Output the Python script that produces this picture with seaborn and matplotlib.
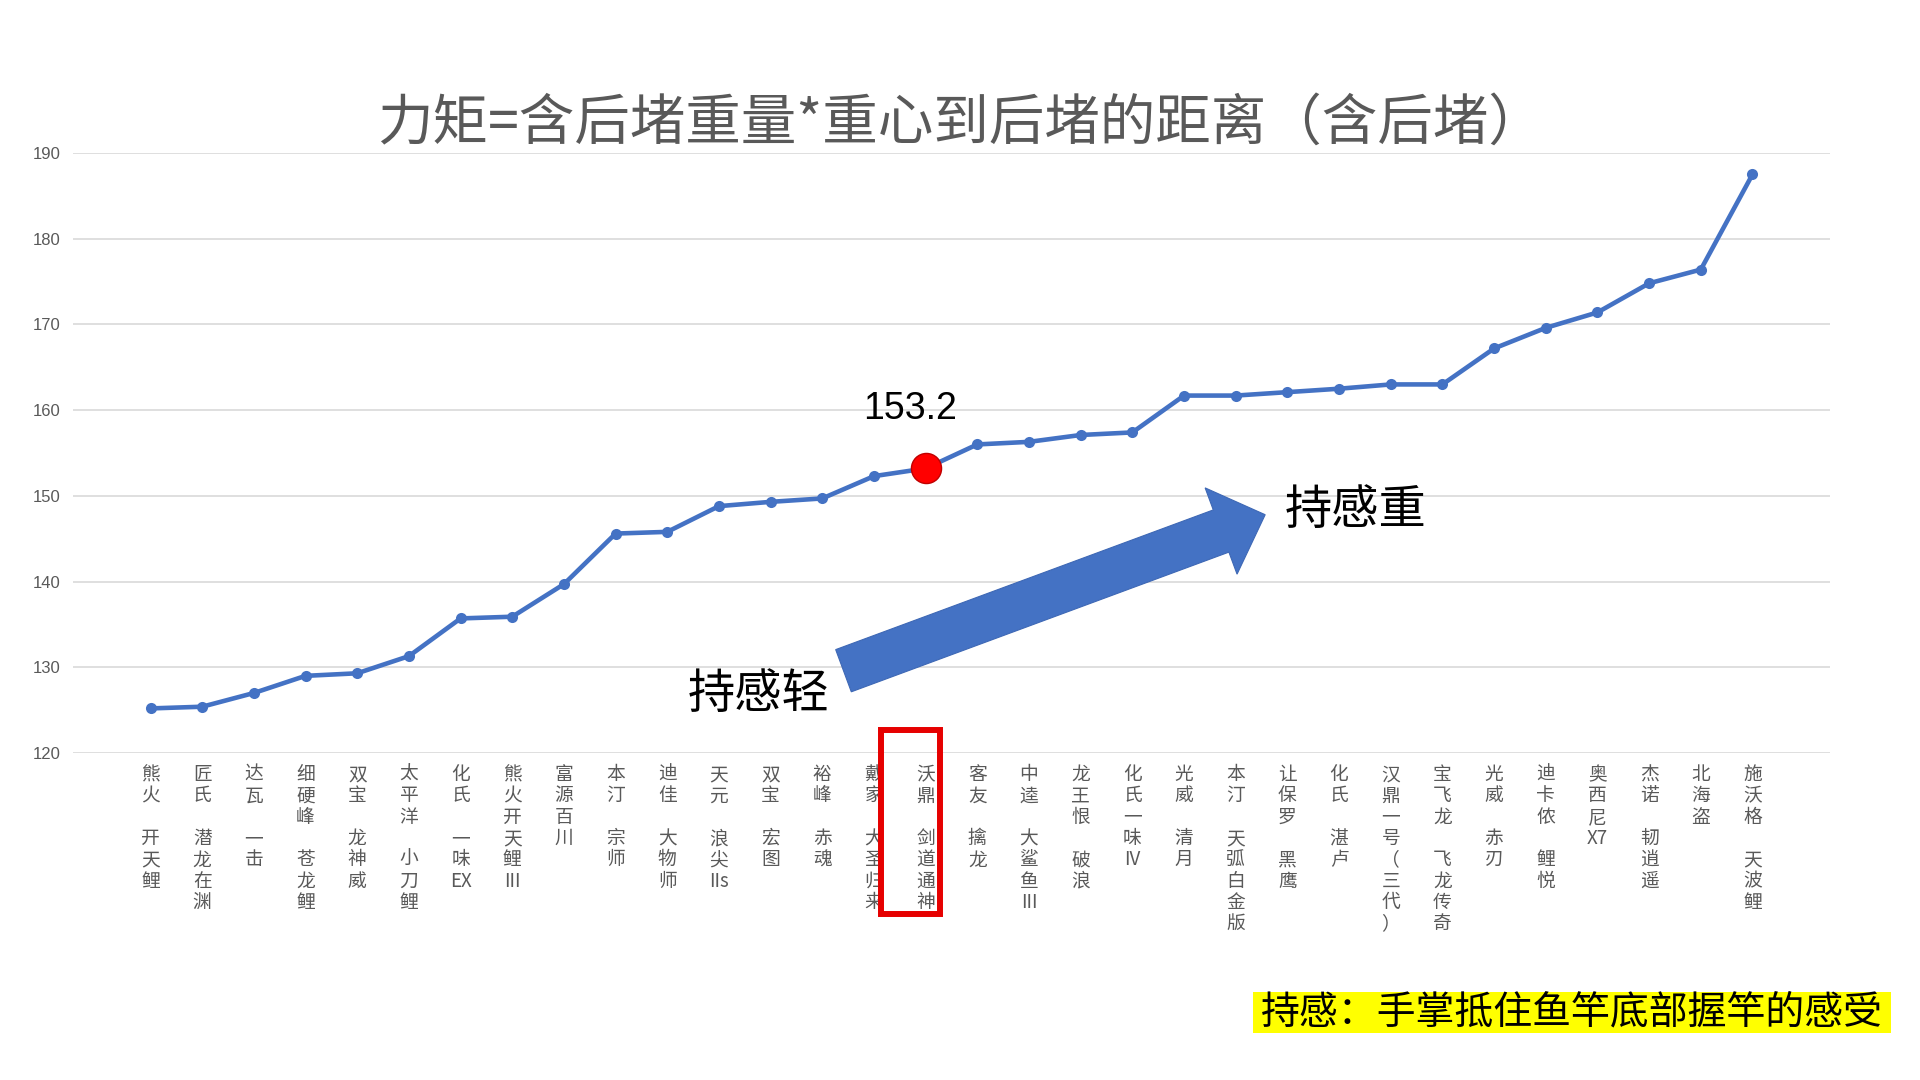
import numpy as np
import pandas as pd
import matplotlib
matplotlib.use("Agg")
import matplotlib.pyplot as plt
import seaborn as sns
from matplotlib.patches import FancyArrow, Rectangle
from matplotlib.transforms import IdentityTransform

# ---------------- data ----------------
rods = ["熊火 开天鲤", "匠氏 潜龙在渊", "达瓦 一击", "细硬峰 苍龙鲤", "双宝 龙神威",
        "太平洋 小刀鲤", "化氏 一味EX", "熊火开天鲤III", "富源百川", "本汀 宗师",
        "迪佳 大物师", "天元 浪尖IIs", "双宝 宏图", "裕峰 赤魂", "戴家 大圣归来",
        "沃鼎 剑道通神", "客友 擒龙", "中逵 大鲨鱼III", "龙王恨 破浪", "化氏一味IV",
        "光威 清月", "本汀 天弧白金版", "让保罗 黑鹰", "化氏 湛卢", "汉鼎一号（三代）",
        "宝飞龙 飞龙传奇", "光威 赤刃", "迪卡侬 鲤悦", "奥西尼X7", "杰诺 韧逍遥",
        "北海盗", "施沃格 天波鲤"]
torque = [125.2, 125.4, 127.0, 129.0, 129.3, 131.3, 135.7, 135.9, 139.7, 145.6,
          145.8, 148.8, 149.3, 149.7, 152.3, 153.2, 156.0, 156.3, 157.1, 157.4,
          161.7, 161.7, 162.1, 162.5, 163.0, 163.0, 167.2, 169.6, 171.4, 174.8,
          176.4, 187.5]
highlight = "沃鼎 剑道通神"
yticks = [120, 130, 140, 150, 160, 170, 180, 190]

title = "力矩=含后堵重量*重心到后堵的距离（含后堵）"
light_txt = "持感轻"
heavy_txt = "持感重"
note_txt = "持感：手掌抵住鱼竿底部握竿的感受"

# arrow annotation endpoints (category position, value)
arrow_tail = (13.41, 129.6)
arrow_tip = (21.57, 147.8)

# ---------------- style ----------------
sns.set_theme(style="white")
plt.rcParams["font.family"] = ["Noto Sans CJK SC", "DejaVu Sans"]

BLUE = "#4472C4"
GREY = "#595959"


def vlabel(s):
    lines, buf = [], ""
    for ch in s:
        if ch.isascii() and ch != " ":
            buf += ch
        else:
            if buf:
                lines.append(buf)
                buf = ""
            lines.append("" if ch == " " else ch)
    if buf:
        lines.append(buf)
    return "\n".join(lines)


df = pd.DataFrame({"rod": rods, "torque": torque})

fig = plt.figure(figsize=(19.2, 10.8), dpi=100)
fig.patch.set_facecolor("white")
ax = fig.add_axes([73 / 1920, 1 - 753 / 1080, (1830 - 73) / 1920, 600 / 1080])
ax.set_facecolor("white")

sns.lineplot(data=df, x="rod", y="torque", ax=ax, sort=False, color=BLUE,
             linewidth=3.3, marker="o", markersize=8, markeredgewidth=0,
             markerfacecolor=BLUE, zorder=3)

hi_idx = rods.index(highlight)
hi_val = torque[hi_idx]
sns.scatterplot(x=[highlight], y=[hi_val], ax=ax, s=470, color="#FF0000",
                edgecolor="#C00000", linewidth=1, zorder=5, legend=False)
ax.annotate(f"{hi_val}", xy=(hi_idx, hi_val), xytext=(-11.5, 43),
            textcoords="offset points", ha="center", va="center",
            fontsize=27, family=["Liberation Sans", "DejaVu Sans"], color="black")

ax.set_xlim(-1.5, len(rods) + 0.5)
ax.set_ylim(yticks[0], yticks[-1])
ax.set_yticks(yticks)
ax.set_yticklabels([str(t) for t in yticks])
ax.set_xticks(range(len(rods)))
ax.set_xticklabels([vlabel(r) for r in rods], linespacing=1.02)
ax.tick_params(axis="x", length=0, pad=8, labelsize=13.5, labelcolor=GREY)
ax.tick_params(axis="y", length=0, pad=9, labelsize=12, labelcolor=GREY)
for lab in ax.get_yticklabels():
    lab.set_family(["Liberation Sans", "DejaVu Sans"])
ax.grid(axis="y", color="#D9D9D9", linewidth=1.2)
ax.grid(axis="x", visible=False)
for sp in ax.spines.values():
    sp.set_visible(False)
ax.set_xlabel("")
ax.set_ylabel("")

# big arrow
p0 = ax.transData.transform(arrow_tail)
p1 = ax.transData.transform(arrow_tip)
arrow = FancyArrow(p0[0], p0[1], p1[0] - p0[0], p1[1] - p0[1], width=45,
                   head_width=92, head_length=47, length_includes_head=True,
                   transform=IdentityTransform(), facecolor=BLUE,
                   edgecolor="#3E68B5", linewidth=0.8, zorder=4)
fig.add_artist(arrow)

fig.text(1356 / 1920, 1 - 511 / 1080, heavy_txt, ha="center", va="center",
         fontsize=34, color="black")
fig.text(759 / 1920, 1 - 695 / 1080, light_txt, ha="center", va="center",
         fontsize=34, color="black")

# title
fig.text(0.5, 1 - 124 / 1080, title, ha="center", va="center", fontsize=40,
         color=GREY)

# red box around highlighted label
fig.add_artist(Rectangle((881 / 1920, 1 - 914 / 1080), 59 / 1920, 184 / 1080,
                         transform=fig.transFigure, fill=False,
                         edgecolor="#E60000", linewidth=4.3))

# yellow note
fig.add_artist(Rectangle((1253 / 1920, 1 - 1033 / 1080), 638 / 1920, 41 / 1080,
                         transform=fig.transFigure, facecolor="#FFFF00",
                         edgecolor="none"))
fig.text(1572 / 1920, 1 - 1012.5 / 1080, note_txt, ha="center", va="center",
         fontsize=28, color="black")

fig.savefig("out.png", dpi=100, facecolor="white")
